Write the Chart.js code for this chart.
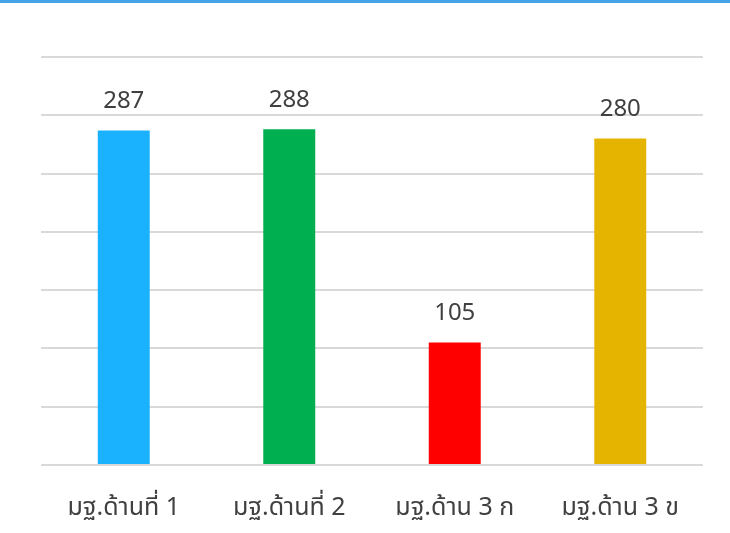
<!DOCTYPE html>
<html lang="th">
<head>
    <meta charset="UTF-8">
    <title>มฐ. chart</title>
    <script src="https://cdn.jsdelivr.net/npm/chart.js"></script>
    <style>
        html, body { margin: 0; padding: 0; background: #fff; }
        #wrap { position: relative; width: 730px; height: 533px; border-top: 3px solid #45a3ea; box-sizing: border-box; }
        canvas { display: block; }
    </style>
</head>
<body>
    <div id="wrap"><canvas id="barChart" width="730" height="530"></canvas></div>

    <script>
        // Data
        var categories = ["มฐ.ด้านที่ 1", "มฐ.ด้านที่ 2", "มฐ.ด้าน 3 ก", "มฐ.ด้าน 3 ข"];
        var values = [287, 288, 105, 280];
        var barColors = ["#1ab2ff", "#00b050", "#ff0000", "#e5b400"];
        var yMax = 350, yStep = 50;

        var fontFamily = "'Noto Sans Thai', 'Noto Sans', 'DejaVu Sans', sans-serif";

        // Draw the value above each bar
        var valueLabels = {
            id: 'valueLabels',
            afterDatasetsDraw: function(chart) {
                var ctx = chart.ctx;
                var meta = chart.getDatasetMeta(0);
                ctx.save();
                ctx.fillStyle = "#404040";
                ctx.font = "24px " + fontFamily;
                ctx.textAlign = "center";
                ctx.textBaseline = "middle";
                meta.data.forEach(function(bar, i) {
                    ctx.fillText(values[i], bar.x, bar.y - 27);
                });
                ctx.restore();
            }
        };

        var ctx = document.getElementById('barChart').getContext('2d');
        var chart = new Chart(ctx, {
            type: 'bar',
            data: {
                labels: categories,
                datasets: [{
                    data: values,
                    backgroundColor: barColors,
                    barPercentage: 0.314,
                    categoryPercentage: 1
                }]
            },
            options: {
                responsive: false,
                animation: false,
                layout: { padding: { left: 41, right: 27, top: 54, bottom: 10 } },
                plugins: { legend: { display: false }, tooltip: { enabled: false } },
                scales: {
                    x: {
                        grid: { display: false, drawTicks: false },
                        border: { display: false },
                        ticks: { color: "#404040", font: { size: 25, family: fontFamily }, padding: 30 },
                        afterFit: function(scale) { scale.height = 58; }
                    },
                    y: {
                        min: 0, max: yMax,
                        ticks: { display: false, stepSize: yStep },
                        grid: { color: "#d9d9d9", lineWidth: 2, drawTicks: false },
                        border: { display: false }
                    }
                }
            },
            plugins: [valueLabels]
        });
    </script>
</body>
</html>
